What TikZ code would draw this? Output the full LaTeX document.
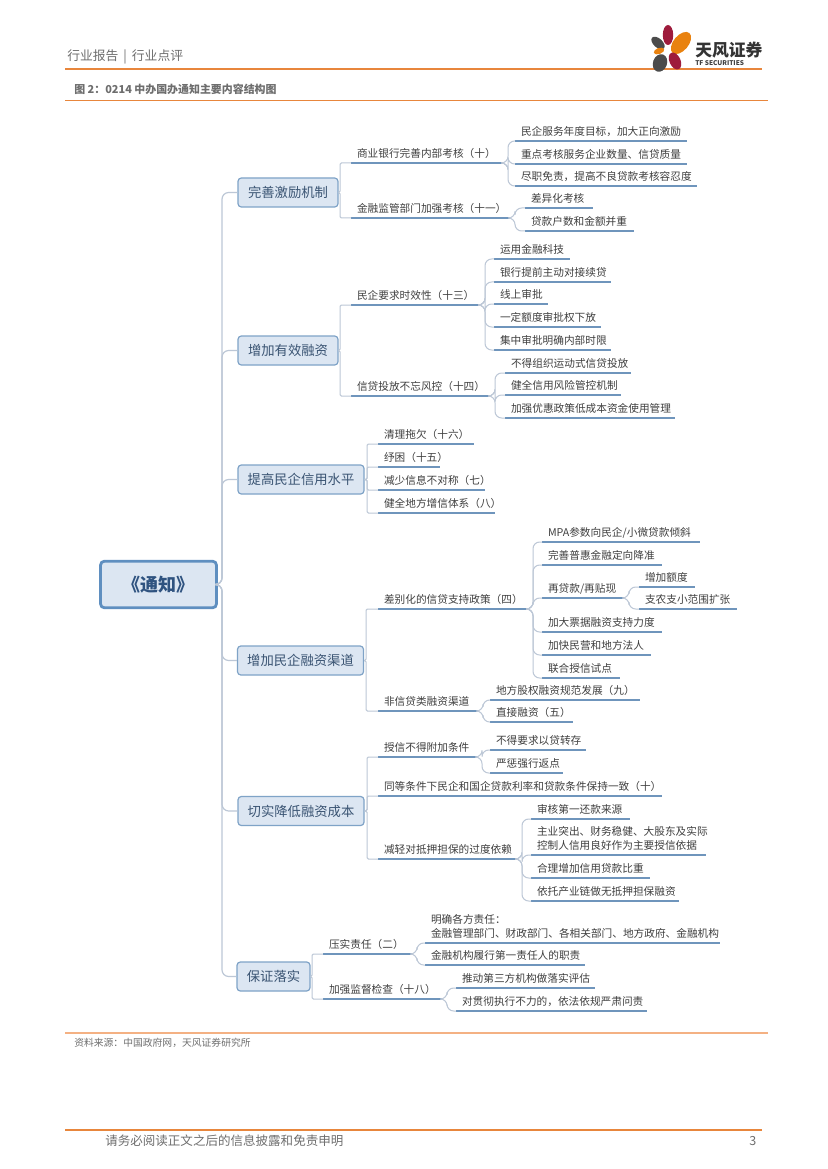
\documentclass[tikz,border=0pt]{standalone}
\usepackage{fontspec}
\setmainfont{Noto Sans CJK SC}
\usetikzlibrary{calc}
\definecolor{orangeline}{HTML}{E8863C}
\definecolor{peach}{HTML}{F4B183}
\definecolor{graytext}{HTML}{6E6E6E}
\definecolor{leaftxt}{HTML}{3F3F3F}
\definecolor{uline}{HTML}{6F95BC}
\definecolor{conn}{HTML}{BCC7D6}
\definecolor{boxfill}{HTML}{DCE6F2}
\definecolor{boxedge}{HTML}{7FA3C7}
\definecolor{rootedge}{HTML}{5F8FC0}
\definecolor{boxtxt}{HTML}{3A5473}
\definecolor{rootxt}{HTML}{2F5380}
\tikzset{
  x=0.75pt,y=-0.75pt,
  leaftext/.style={inner sep=0pt,outer sep=0pt,align=left,anchor=south west,text=leaftxt,
    font=\fontsize{8}{11}\selectfont,text depth=4.2pt},
  underl/.style={draw=uline,line width=1pt},
  fanline/.style={draw=conn,line width=0.75pt,rounded corners=5pt},
  branchline/.style={draw=conn,line width=0.75pt,rounded corners=1pt},
  trunkline/.style={draw=conn,line width=0.9pt,rounded corners=5pt},
  branchbox/.style={draw=boxedge,fill=boxfill,line width=0.9pt,rounded corners=2.5pt,text=boxtxt,
    inner sep=0pt,minimum height=21.75pt,font=\fontsize{10}{12}\selectfont},
  rootbox/.style={draw=rootedge,fill=boxfill,line width=2.1pt,rounded corners=3pt,text=rootxt,
    inner sep=0pt,font=\bfseries\fontsize{13.5}{16}\selectfont},
  headline/.style={draw=orangeline,line width=1.5pt},
  thinline/.style={draw=orangeline,line width=0.6pt},
  peachline/.style={draw=peach,line width=1pt},
  pagetext/.style={inner sep=0pt,anchor=west,text=graytext},
}
% name, x0, x1, y of underline, text
\newcommand{\leaf}[5]{%
  \pgfmathsetmacro{\lw}{(#3-#2)*0.75}%
  \node[leaftext,text width=\lw pt] (#1) at (#2,#4) {\hspace*{4.5pt}#5};
  \draw[underl] (#1.south west) -- (#1.south east);
}
% parent, distance of junction
\newcommand{\junction}[2]{\coordinate (#1-j) at ($(#1.south east)+(#2,0)$);}
\newcommand{\fan}[2]{\draw[fanline] (#1.south east) -- (#1-j) -- (#1-j |- #2.south west) -- (#2.south west);}
\newcommand{\bran}[3]{\draw[branchline] (#1.east) -- (#3,0 |- #1.east) -- (#3,0 |- #2.south west) -- (#2.south west);}
\begin{document}
\begin{tikzpicture}
\useasboundingbox (0,0) rectangle (827,1169);
\fill[white] (0,0) rectangle (827,1169);

% page furniture
\node[pagetext,font=\fontsize{9.6}{11}\selectfont] (hdr) at (67,57) {行业报告 \,|\, 行业点评};
\coordinate (h1a) at (65,69); \coordinate (h1b) at (762,69);
\draw[headline] (h1a) -- (h1b);
\node[pagetext,font=\bfseries\fontsize{8.2}{10}\selectfont] (fig) at (74,89) {图 2：0214 中办国办通知主要内容结构图};
\coordinate (h2a) at (65,100.5); \coordinate (h2b) at (768,100.5);
\draw[thinline] (h2a) -- (h2b);
\coordinate (f1a) at (65,1033); \coordinate (f1b) at (768,1033);
\draw[peachline] (f1a) -- (f1b);
\node[pagetext,font=\fontsize{7.35}{9}\selectfont] (src) at (74,1043) {资料来源：中国政府网，天风证券研究所};
\coordinate (f2a) at (65,1130); \coordinate (f2b) at (762,1130);
\draw[headline] (f2a) -- (f2b);
\node[pagetext,font=\fontsize{9.4}{11}\selectfont] (foot) at (105,1141) {请务必阅读正文之后的信息披露和免责申明};
\node[pagetext,font=\fontsize{9.4}{11}\selectfont] (pg) at (749,1141) {3};

% logo
\fill[fill={rgb,255:red,158;green,27;blue,60}] (668,35) ellipse [x radius=5.2,y radius=10];
\fill[fill={rgb,255:red,233;green,130;blue,15},rotate around={-40:(681,43)}] (681,43) ellipse [x radius=7.5,y radius=13];
\fill[fill={rgb,255:red,75;green,75;blue,75},rotate around={48:(658,43)}] (658,43) ellipse [x radius=4.5,y radius=8];
\fill[fill={rgb,255:red,233;green,130;blue,15},rotate around={-70:(659,51)}] (659,51) ellipse [x radius=3,y radius=5.5];
\fill[fill={rgb,255:red,75;green,75;blue,75},rotate around={-20:(660,63)}] (660,63) ellipse [x radius=7,y radius=9];
\fill[fill={rgb,255:red,158;green,27;blue,60},rotate around={25:(675,61)}] (675,61) ellipse [x radius=5.5,y radius=9];
\node[inner sep=0pt,anchor=west,text=black!80,font=\bfseries\fontsize{12.6}{15}\selectfont] (logocn) at (695,50) {天风证券};
\node[inner sep=0pt,anchor=west,text=black!75,font=\bfseries\fontsize{4.9}{6}\selectfont] (logoen) at (695,63.5) {TF SECURITIES};

% root and branches
\node[rootbox,minimum width=87pt,minimum height=35pt] (root) at (158.5,584.5) {《通知》};
\node[branchbox,minimum width=75pt] (b1) at (288,192.5) {完善激励机制};
\node[branchbox,minimum width=75pt] (b2) at (288,350.5) {增加有效融资};
\node[branchbox,minimum width=94.5pt] (b3) at (301,479.5) {提高民企信用水平};
\node[branchbox,minimum width=94.5pt] (b4) at (300.5,660.5) {增加民企融资渠道};
\node[branchbox,minimum width=94.5pt] (b5) at (301,811) {切实降低融资成本};
\node[branchbox,minimum width=54.75pt] (b6) at (273.5,976.5) {保证落实};
\coordinate (rj) at (222,584.5);
\foreach \b in {b1,b2,b3,b4,b5,b6}{
  \draw[trunkline] (root.east) -- (rj) -- (rj |- \b.west) -- (\b.west);
}

% branch 1
\leaf{a1}{351}{503}{163}{商业银行完善内部考核（十）}
\leaf{a2}{351}{510}{218}{金融监管部门加强考核（十一）}
\bran{b1}{a1}{340} \bran{b1}{a2}{340}
\leaf{a11}{515}{687}{141}{民企服务年度目标，加大正向激励}
\leaf{a12}{515}{687}{164}{重点考核服务企业数量、信贷质量}
\leaf{a13}{515}{697}{186}{尽职免责，提高不良贷款考核容忍度}
\junction{a1}{5}
\fan{a1}{a11} \fan{a1}{a12} \fan{a1}{a13}
\leaf{a21}{525}{593}{208}{差异化考核}
\leaf{a22}{525}{634}{231}{贷款户数和金额并重}
\junction{a2}{5}
\fan{a2}{a21} \fan{a2}{a22}

% branch 2
\leaf{c1}{351}{481}{305}{民企要求时效性（十三）}
\leaf{c2}{351}{491}{396}{信贷投放不忘风控（十四）}
\bran{b2}{c1}{340} \bran{b2}{c2}{340}
\leaf{c11}{494}{570}{259}{运用金融科技}
\leaf{c12}{494}{611}{282}{银行提前主动对接续贷}
\leaf{c13}{494}{548}{304}{线上审批}
\leaf{c14}{494}{601}{327}{一定额度审批权下放}
\leaf{c15}{494}{611}{350}{集中审批明确内部时限}
\junction{c1}{4}
\fan{c1}{c11} \fan{c1}{c12} \fan{c1}{c13} \fan{c1}{c14} \fan{c1}{c15}
\leaf{c21}{505}{631}{373}{不得组织运动式信贷投放}
\leaf{c22}{505}{621}{395}{健全信用风险管控机制}
\leaf{c23}{505}{675}{418}{加强优惠政策低成本资金使用管理}
\junction{c2}{4}
\fan{c2}{c21} \fan{c2}{c22} \fan{c2}{c23}

% branch 3
\leaf{d1}{378}{474}{444}{清理拖欠（十六）}
\leaf{d2}{378}{440}{467}{纾困（十五）}
\leaf{d3}{378}{485}{490}{减少信息不对称（七）}
\leaf{d4}{378}{495}{513}{健全地方增信体系（八）}
\bran{b3}{d1}{367} \bran{b3}{d2}{367} \bran{b3}{d3}{367} \bran{b3}{d4}{367}

% branch 4
\leaf{e1}{378}{529}{609}{差别化的信贷支持政策（四）}
\leaf{e2}{378}{478}{711}{非信贷类融资渠道}
\bran{b4}{e1}{366} \bran{b4}{e2}{366}
\leaf{e11}{542}{700}{542}{MPA参数向民企/小微贷款倾斜}
\leaf{e12}{542}{662}{565}{完善普惠金融定向降准}
\leaf{e13}{542}{625}{598}{再贷款/再贴现}
\leaf{e14}{542}{662}{632}{加大票据融资支持力度}
\leaf{e15}{542}{651}{655}{加快民营和地方法人}
\leaf{e16}{542}{620}{678}{联合授信试点}
\junction{e1}{4}
\fan{e1}{e11} \fan{e1}{e12} \fan{e1}{e13} \fan{e1}{e14} \fan{e1}{e15} \fan{e1}{e16}
\leaf{e131}{639}{695}{587}{增加额度}
\leaf{e132}{639}{737}{609}{支农支小范围扩张}
\junction{e13}{4}
\fan{e13}{e131} \fan{e13}{e132}
\leaf{e21}{490}{640}{700}{地方股权融资规范发展（九）}
\leaf{e22}{490}{573}{722}{直接融资（五）}
\junction{e2}{5}
\fan{e2}{e21} \fan{e2}{e22}

% branch 5
\leaf{g1}{378}{478}{757}{授信不得附加条件}
\leaf{g2}{378}{662}{796}{同等条件下民企和国企贷款利率和贷款条件保持一致（十）}
\leaf{g3}{378}{517}{859}{减轻对抵押担保的过度依赖}
\bran{b5}{g1}{367} \bran{b5}{g2}{367} \bran{b5}{g3}{367}
\leaf{g11}{490}{586}{750}{不得要求以贷转存}
\leaf{g12}{490}{563}{773}{严惩强行返点}
\junction{g1}{4}
\fan{g1}{g11} \fan{g1}{g12}
\leaf{g31}{531}{630}{819}{审核第一还款来源}
\leaf{g32}{531}{706}{855}{\parbox[b]{150pt}{\fontsize{8}{10.8}\selectfont 主业突出、财务稳健、大股东及实际\\控制人信用良好作为主要授信依据}}
\leaf{g33}{531}{650}{878}{合理增加信用贷款比重}
\leaf{g34}{531}{679}{901}{依托产业链做无抵押担保融资}
\junction{g3}{5}
\fan{g3}{g31} \fan{g3}{g32} \fan{g3}{g33} \fan{g3}{g34}

% branch 6
\leaf{k1}{323}{412}{954}{压实责任（二）}
\leaf{k2}{323}{442}{999}{加强监督检查（十八）}
\bran{b6}{k1}{312} \bran{b6}{k2}{312}
\leaf{k11}{425}{720}{943}{\parbox[b]{230pt}{\fontsize{8}{10.8}\selectfont 明确各方责任：\\金融管理部门、财政部门、各相关部门、地方政府、金融机构}}
\leaf{k12}{425}{585}{965}{金融机构履行第一责任人的职责}
\junction{k1}{5}
\fan{k1}{k11} \fan{k1}{k12}
\leaf{k21}{456}{595}{988}{推动第三方机构做落实评估}
\leaf{k22}{456}{647}{1011}{对贯彻执行不力的，依法依规严肃问责}
\junction{k2}{5}
\fan{k2}{k21} \fan{k2}{k22}
\end{tikzpicture}
\end{document}
